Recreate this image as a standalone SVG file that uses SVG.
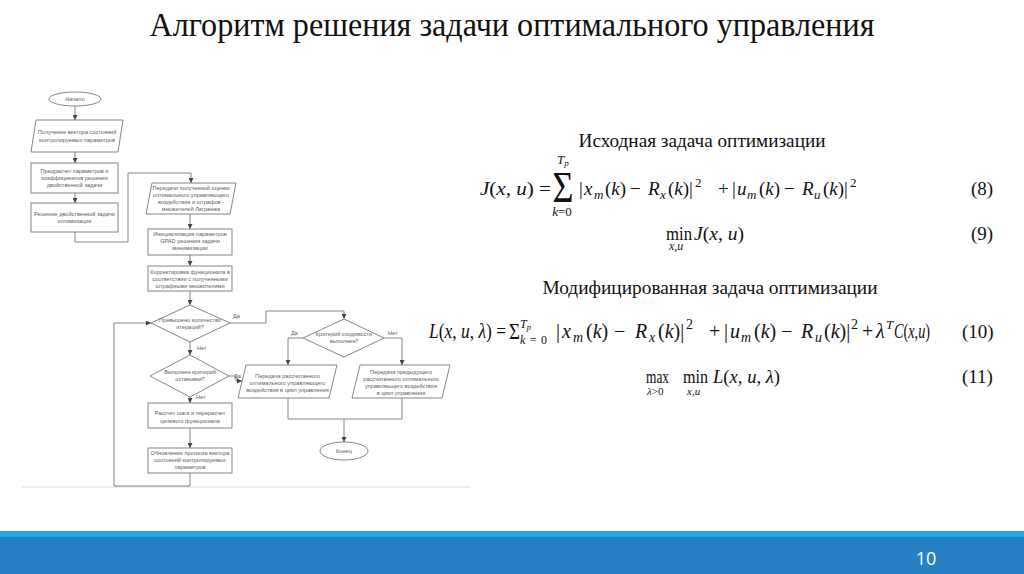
<svg xmlns="http://www.w3.org/2000/svg" width="1024" height="574" viewBox="0 0 1024 574">
<style>
.fc{fill:#fff;stroke:#777;stroke-width:0.9}
.ft{font-family:"Liberation Sans",Arial,sans-serif;font-size:5.6px;fill:#606060;text-anchor:middle}
.lb{font-family:"Liberation Sans",Arial,sans-serif;font-size:5.6px;fill:#606060}
.cn{fill:none;stroke:#777;stroke-width:0.9}
.m{font-family:"Liberation Serif","DejaVu Serif",serif;fill:#111}
.i{font-style:italic}
.h{font-family:"Liberation Serif","DejaVu Serif",serif;fill:#111}
</style>
<defs>
<marker id="ar" viewBox="0 0 6 6" refX="6" refY="3" markerWidth="5" markerHeight="5" orient="auto" markerUnits="userSpaceOnUse">
<path d="M0,0 L6,3 L0,6 Z" fill="#444"/>
</marker>
</defs>
<rect width="1024" height="574" fill="#fff"/>
<text class="h" x="512" y="36" font-size="33" text-anchor="middle" textLength="725" lengthAdjust="spacingAndGlyphs">Алгоритм решения задачи оптимального управления</text>

<line x1="22" y1="487" x2="470" y2="487" stroke="#ddd" stroke-width="1"/>

<g id="connectors">
<path class="cn" d="M75,106 V120" marker-end="url(#ar)"/>
<path class="cn" d="M75,152 V163" marker-end="url(#ar)"/>
<path class="cn" d="M75,193 V203" marker-end="url(#ar)"/>
<path class="cn" d="M75,232 V242 H128 V173 H191 V183" marker-end="url(#ar)"/>
<path class="cn" d="M190,214 V229" marker-end="url(#ar)"/>
<path class="cn" d="M190,255 V266" marker-end="url(#ar)"/>
<path class="cn" d="M190,291 V305" marker-end="url(#ar)"/>
<path class="cn" d="M230,323 H266 V311 H344 V319" marker-end="url(#ar)"/>
<path class="cn" d="M190,342 V355" marker-end="url(#ar)"/>
<path class="cn" d="M229,376 H236 V381 H242" marker-end="url(#ar)"/>
<path class="cn" d="M190,397 V403" marker-end="url(#ar)"/>
<path class="cn" d="M190,428 V448" marker-end="url(#ar)"/>
<path class="cn" d="M190,473 V486 H114 V323 H151" marker-end="url(#ar)"/>
<path class="cn" d="M303,338 H288 V365" marker-end="url(#ar)"/>
<path class="cn" d="M384,338 H402 V365" marker-end="url(#ar)"/>
<path class="cn" d="M288,398 V419 H402 V398"/>
<path class="cn" d="M344,419 V442" marker-end="url(#ar)"/>
<text class="lb" x="233" y="318">Да</text>
<text class="lb" x="197" y="350">Нет</text>
<text class="lb" x="234" y="378">Да</text>
<text class="lb" x="196" y="399">Нет</text>
<text class="lb" x="291" y="335">Да</text>
<text class="lb" x="388" y="335">Нет</text>
</g>

<g id="start">
<ellipse class="fc" cx="75" cy="99" rx="26" ry="7"/>
<text class="ft" x="75" y="101">Начало</text>
</g>
<g id="get-state">
<polygon class="fc" points="36,120 123,120 118,152 31,152"/>
<text class="ft" x="77" y="134">Получение вектора состояний</text>
<text class="ft" x="77" y="142">контролируемых параметров</text>
</g>
<g id="precalc">
<rect class="fc" x="31" y="163" width="87" height="30"/>
<text class="ft" x="74.5" y="173">Предрасчет параметров и</text>
<text class="ft" x="74.5" y="180">коэффициентов решения</text>
<text class="ft" x="74.5" y="187">двойственной задачи</text>
</g>
<g id="dual">
<rect class="fc" x="31" y="203" width="87" height="29"/>
<text class="ft" x="74.5" y="216">Решение двойственной задачи</text>
<text class="ft" x="74.5" y="223">оптимизации</text>
</g>
<g id="pass-estimate">
<polygon class="fc" points="152,183 236,183 230,214 146,214"/>
<text class="ft" x="191" y="190">Передачи полученной оценки</text>
<text class="ft" x="191" y="197">оптимального управляющего</text>
<text class="ft" x="191" y="204">воздействия и штрафов -</text>
<text class="ft" x="191" y="211">множителей Лагранжа</text>
</g>
<g id="init">
<rect class="fc" x="148" y="229" width="84" height="26"/>
<text class="ft" x="190" y="236">Инициализация параметров</text>
<text class="ft" x="190" y="243">GPAD решения задачи</text>
<text class="ft" x="190" y="250">минимизации</text>
</g>
<g id="correct">
<rect class="fc" x="148" y="266" width="84" height="25"/>
<text class="ft" x="190" y="274">Корректировка функционала в</text>
<text class="ft" x="190" y="281">соответствии с полученными</text>
<text class="ft" x="190" y="288">штрафными множителями</text>
</g>
<g id="iter-check">
<polygon class="fc" points="151,323 190,305 230,323 190,342"/>
<text class="ft" x="190" y="322">Превышено количество</text>
<text class="ft" x="190" y="329">итераций?</text>
</g>
<g id="stop-check">
<polygon class="fc" points="150,376 190,355 229,376 190,397"/>
<text class="ft" x="190" y="374">Выполнен критерий</text>
<text class="ft" x="190" y="381">остановки?</text>
</g>
<g id="step">
<rect class="fc" x="148" y="403" width="84" height="25"/>
<text class="ft" x="190" y="415">Рассчет шага и перерасчет</text>
<text class="ft" x="190" y="423">целевого функционала</text>
</g>
<g id="update">
<rect class="fc" x="148" y="448" width="84" height="25"/>
<text class="ft" x="190" y="455">Обновление прогноза вектора</text>
<text class="ft" x="190" y="462">состояний контролируемых</text>
<text class="ft" x="190" y="469">параметров</text>
</g>
<g id="conv-check">
<polygon class="fc" points="303,338 344,319 384,338 344,357"/>
<text class="ft" x="344" y="336">Критерий сходимости</text>
<text class="ft" x="344" y="343">выполнен?</text>
</g>
<g id="pass-new">
<polygon class="fc" points="246,365 337,365 329,398 238,398"/>
<text class="ft" x="287.5" y="378">Передача рассчитанного</text>
<text class="ft" x="287.5" y="385">оптимального управляющего</text>
<text class="ft" x="287.5" y="392">воздействия в цикл управления</text>
</g>
<g id="pass-prev">
<polygon class="fc" points="360,365 450,365 442,398 352,398"/>
<text class="ft" x="401" y="374">Передача предыдущего</text>
<text class="ft" x="401" y="381">рассчитанного оптимального</text>
<text class="ft" x="401" y="388">управляющего воздействия</text>
<text class="ft" x="401" y="395">в цикл управления</text>
</g>
<g id="end">
<ellipse class="fc" cx="344" cy="451" rx="24" ry="9"/>
<text class="ft" x="344" y="453">Конец</text>
</g>

<g id="formulas" font-size="19">
<text class="h" x="702" y="147" font-size="18.5" text-anchor="middle" textLength="247" lengthAdjust="spacingAndGlyphs">Исходная задача оптимизации</text>

<text class="m" x="480" y="195" textLength="71" lengthAdjust="spacingAndGlyphs"><tspan class="i">J</tspan>(<tspan class="i">x</tspan>, <tspan class="i">u</tspan>) =</text>
<text class="m" x="563" y="202" font-size="44" text-anchor="middle" textLength="21" lengthAdjust="spacingAndGlyphs">Σ</text>
<text class="m" x="557" y="164" font-size="13"><tspan class="i">T</tspan><tspan class="i" font-size="9" dy="2">p</tspan></text>
<text class="m" x="562" y="216" font-size="13" text-anchor="middle"><tspan class="i">k</tspan>=0</text>
<text class="m" y="195"><tspan x="579">|</tspan><tspan x="584" class="i">x</tspan><tspan x="594" class="i" font-size="13" dy="4">m</tspan><tspan x="605" dy="-4">(</tspan><tspan class="i">k</tspan>)<tspan x="630">−</tspan><tspan x="648" class="i">R</tspan><tspan x="660" class="i" font-size="13" dy="4">x</tspan><tspan x="668" dy="-4">(</tspan><tspan class="i">k</tspan>)|<tspan x="695" font-size="13" dy="-8">2</tspan></text>
<text class="m" y="195"><tspan x="718">+</tspan><tspan x="732">|</tspan><tspan x="737" class="i">u</tspan><tspan x="747" class="i" font-size="13" dy="4">m</tspan><tspan x="759" dy="-4">(</tspan><tspan class="i">k</tspan>)<tspan x="784">−</tspan><tspan x="802" class="i">R</tspan><tspan x="814" class="i" font-size="13" dy="4">u</tspan><tspan x="823" dy="-4">(</tspan><tspan class="i">k</tspan>)|<tspan x="850" font-size="13" dy="-8">2</tspan></text>
<text class="m" x="971" y="195">(8)</text>

<text class="m" x="666" y="240" textLength="26" lengthAdjust="spacingAndGlyphs">min</text>
<text class="m i" x="669" y="250" font-size="12">x,u</text>
<text class="m" x="694" y="240" textLength="50" lengthAdjust="spacingAndGlyphs"><tspan class="i">J</tspan>(<tspan class="i">x</tspan>, <tspan class="i">u</tspan>)</text>
<text class="m" x="971" y="240">(9)</text>

<text class="h" x="710" y="294" font-size="18.5" text-anchor="middle" textLength="335" lengthAdjust="spacingAndGlyphs">Модифицированная задача оптимизации</text>

<text class="m" x="429" y="338" font-size="20" textLength="77" lengthAdjust="spacingAndGlyphs"><tspan class="i">L</tspan>(<tspan class="i">x</tspan>, <tspan class="i">u</tspan>, <tspan class="i">λ</tspan>) =</text>
<text class="m" x="509" y="339" font-size="24" textLength="11" lengthAdjust="spacingAndGlyphs">Σ</text>
<text class="m" x="520" y="328" font-size="12"><tspan class="i">T</tspan><tspan class="i" font-size="8.5" dy="2">p</tspan></text>
<text class="m" x="520" y="344" font-size="12" textLength="27" lengthAdjust="spacing"><tspan class="i">k</tspan> = 0</text>
<text class="m" y="338" font-size="20"><tspan x="556">|</tspan><tspan x="562" class="i">x</tspan><tspan x="573" class="i" font-size="14" dy="4">m</tspan><tspan x="586" dy="-4">(</tspan><tspan class="i">k</tspan>)<tspan x="614">−</tspan><tspan x="635" class="i">R</tspan><tspan x="649" class="i" font-size="14" dy="4">x</tspan><tspan x="658" dy="-4">(</tspan><tspan class="i">k</tspan>)|<tspan x="686" font-size="14" dy="-9">2</tspan></text>
<text class="m" y="338" font-size="20"><tspan x="709">+</tspan><tspan x="724">|</tspan><tspan x="730" class="i">u</tspan><tspan x="741" class="i" font-size="14" dy="4">m</tspan><tspan x="754" dy="-4">(</tspan><tspan class="i">k</tspan>)<tspan x="781">−</tspan><tspan x="801" class="i">R</tspan><tspan x="815" class="i" font-size="14" dy="4">u</tspan><tspan x="824" dy="-4">(</tspan><tspan class="i">k</tspan>)|<tspan x="851" font-size="14" dy="-9">2</tspan></text>
<text class="m" y="338" font-size="20"><tspan x="862">+</tspan><tspan x="876" class="i">λ</tspan><tspan x="886" class="i" font-size="13" dy="-9">T</tspan></text>
<text class="m" x="894" y="338" font-size="20" textLength="36" lengthAdjust="spacingAndGlyphs"><tspan class="i">C</tspan>(<tspan class="i">x</tspan>,<tspan class="i">u</tspan>)</text>
<text class="m" x="962" y="338">(10)</text>

<text class="m" x="646" y="383" textLength="23" lengthAdjust="spacingAndGlyphs">max</text>
<text class="m" x="647" y="395" font-size="11"><tspan class="i">λ</tspan>&gt;0</text>
<text class="m" x="683" y="383" textLength="25" lengthAdjust="spacingAndGlyphs">min</text>
<text class="m i" x="687" y="395" font-size="11">x,u</text>
<text class="m" x="713" y="383" textLength="67" lengthAdjust="spacingAndGlyphs"><tspan class="i">L</tspan>(<tspan class="i">x</tspan>, <tspan class="i">u</tspan>, <tspan class="i">λ</tspan>)</text>
<text class="m" x="962" y="383">(11)</text>
</g>

<g id="footer">
<rect x="0" y="531" width="1024" height="43" fill="#2780c4"/>
<rect x="0" y="531" width="1024" height="6" fill="#22a6de"/>
<text x="926" y="565" font-family="'Open Sans','Liberation Sans',sans-serif" font-size="18" fill="#fff" text-anchor="middle">10</text>
</g>
</svg>
